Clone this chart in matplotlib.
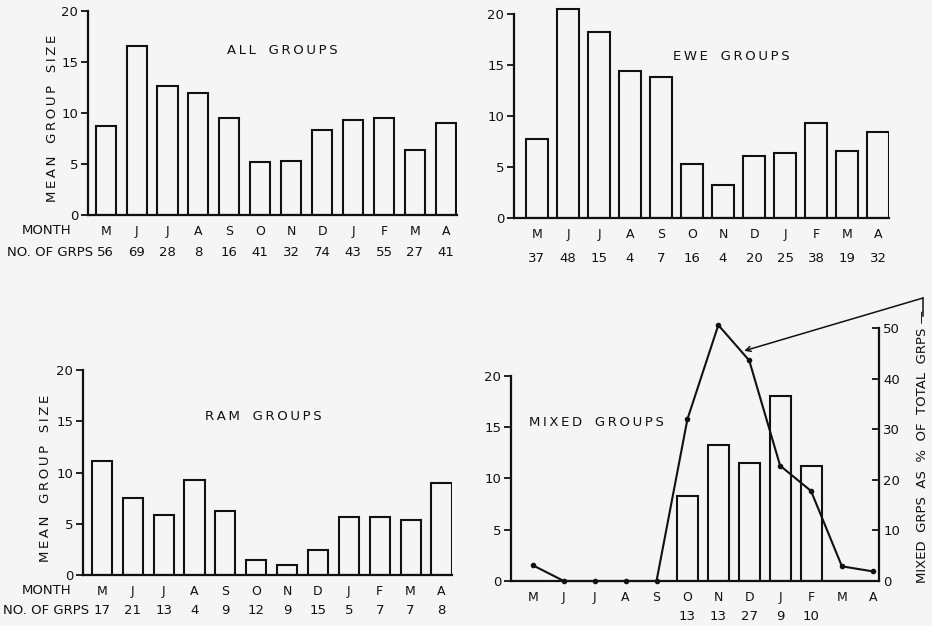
import numpy as np
import matplotlib
matplotlib.use("Agg")
import matplotlib.pyplot as plt
from matplotlib.lines import Line2D

months = ["M", "J", "J", "A", "S", "O", "N", "D", "J", "F", "M", "A"]

all_vals = [8.7, 16.6, 12.6, 12.0, 9.5, 5.2, 5.3, 8.3, 9.3, 9.5, 6.4, 9.0]
all_n = [56, 69, 28, 8, 16, 41, 32, 74, 43, 55, 27, 41]

ewe_vals = [7.8, 20.5, 18.3, 14.4, 13.8, 5.3, 3.2, 6.1, 6.4, 9.3, 6.6, 8.4]
ewe_n = [37, 48, 15, 4, 7, 16, 4, 20, 25, 38, 19, 32]

ram_vals = [11.1, 7.5, 5.9, 9.3, 6.2, 1.5, 1.0, 2.4, 5.7, 5.7, 5.4, 9.0]
ram_n = [17, 21, 13, 4, 9, 12, 9, 15, 5, 7, 7, 8]

mixed_vals = [None, None, None, None, None, 8.3, 13.3, 11.5, 18.0, 11.2, None, None]
mixed_n = ["", "", "", "", "", 13, 13, 27, 9, 10, "", ""]
mixed_pct = [3.1, 0, 0, 0, 0, 32.0, 50.6, 43.6, 22.8, 17.8, 2.9, 1.9]

W, H = 932, 626
BG = "#f5f5f5"
INK = "#111111"
plt.rcParams["font.family"] = ["DejaVu Sans"]

fig = plt.figure(figsize=(W / 100, H / 100), dpi=100, facecolor=BG)


def sp(text, gap="   ", sep="\u2009"):
    words = text.split(" ")
    return gap.join(sep.join(w) for w in words)


def add_ax(left, right, top, bottom):
    return fig.add_axes([left / W, 1 - bottom / H, (right - left) / W, (bottom - top) / H])


def ftext(x, y, s, **kw):
    fig.text(x / W, 1 - y / H, s, color=INK, **kw)


def style(ax, xlim, ylim, bound=None):
    ax.set_facecolor("none")
    ax.set_xlim(*xlim)
    ax.set_ylim(*ylim)
    for side in ["top", "right"]:
        ax.spines[side].set_visible(False)
    for side in ["left", "bottom"]:
        ax.spines[side].set_linewidth(1.6)
        ax.spines[side].set_color(INK)
    if bound is not None:
        ax.spines["left"].set_bounds(*bound)
    ax.set_yticks([0, 5, 10, 15, 20])
    ax.set_yticklabels(["0", "5", "10", "15", "20"])
    ax.tick_params(axis="y", direction="out", length=5, width=1.3, colors=INK,
                   labelsize=9.5, pad=2)
    ax.tick_params(axis="x", length=0, labelsize=9, colors=INK, pad=7)


def bars(ax, vals, width):
    x = np.arange(len(months))
    for xi, v in zip(x, vals):
        if v is not None:
            ax.bar(xi, v, width=width, facecolor="none", edgecolor=INK, linewidth=1.5)
    ax.set_xticks(x)
    ax.set_xticklabels(months)


def counts(ax, ns, y_off_px, ax_h_px):
    for xi, n in enumerate(ns):
        ax.text(xi, -y_off_px / ax_h_px, str(n), transform=ax.get_xaxis_transform(),
                ha="center", va="center", fontsize=9.5, color=INK)


# Panel 1: ALL GROUPS
ax1 = add_ax(88, 457, 11, 215)
style(ax1, (-0.57, 11.36), (0, 20))
bars(ax1, all_vals, 0.65)
counts(ax1, all_n, 37, 204)
ftext(282, 51, sp("ALL GROUPS"), ha="center", va="center", fontsize=9.5)
ftext(53, 118, sp("MEAN GROUP SIZE"), ha="center", va="center", fontsize=9.5, rotation=90)
ftext(22, 231, "MONTH", ha="left", va="center", fontsize=9.5)
ftext(7, 252, "NO. OF GRPS", ha="left", va="center", fontsize=9.5)

# Panel 2: EWE GROUPS
ax2 = add_ax(514, 889, 4, 218)
style(ax2, (-0.74, 11.35), (0, 21), bound=(0, 20))
bars(ax2, ewe_vals, 0.7)
counts(ax2, ewe_n, 40, 214)
ftext(731, 57, sp("EWE GROUPS"), ha="center", va="center", fontsize=9.5)

# Panel 3: RAM GROUPS
ax3 = add_ax(83, 452, 370, 575)
style(ax3, (-0.61, 11.34), (0, 20))
bars(ax3, ram_vals, 0.65)
counts(ax3, ram_n, 36, 205)
ftext(263, 416, sp("RAM GROUPS"), ha="center", va="center", fontsize=9.5)
ftext(46, 478, sp("MEAN GROUP SIZE"), ha="center", va="center", fontsize=9.5, rotation=90)
ftext(22, 590, "MONTH", ha="left", va="center", fontsize=9.5)
ftext(3, 611, "NO. OF GRPS", ha="left", va="center", fontsize=9.5)

# Panel 4: MIXED GROUPS
ax4 = add_ax(511, 879, 320, 581)
style(ax4, (-0.71, 11.2), (0, 25.46), bound=(0, 20))
bars(ax4, mixed_vals, 0.68)
counts(ax4, mixed_n, 35, 261)
ftext(529, 422, sp("MIXED GROUPS"), ha="left", va="center", fontsize=9.5)

ax4r = ax4.twinx()
ax4r.set_ylim(0, 51.6)
ax4r.set_facecolor("none")
for side in ["top", "left", "bottom"]:
    ax4r.spines[side].set_visible(False)
ax4r.spines["right"].set_linewidth(1.6)
ax4r.spines["right"].set_color(INK)
ax4r.spines["right"].set_bounds(0, 50)
ax4r.set_yticks([0, 10, 20, 30, 40, 50])
ax4r.tick_params(axis="y", direction="in", length=5, width=1.3, colors=INK,
                 labelsize=9.5, pad=3)
xm = np.arange(len(months))
ax4r.plot(xm, mixed_pct, color=INK, linewidth=1.5, marker="o", markersize=3,
          clip_on=False)

# right label with leader
ftext(922, 583, sp("MIXED GRPS AS % OF TOTAL GRPS", gap="  ", sep="") + " \u2014",
      ha="center", va="bottom", fontsize=9.5, rotation=90)
arrow_x = 6.75
arrow_y = float(np.interp(arrow_x, xm, mixed_pct))
ax4r.annotate("", xy=(arrow_x, arrow_y), xycoords="data",
              xytext=(923 / W, 1 - 298 / H), textcoords="figure fraction",
              arrowprops=dict(arrowstyle="->", color=INK, lw=1.1,
                              shrinkA=0, shrinkB=2, mutation_scale=9))
fig.add_artist(Line2D([923 / W, 923 / W], [1 - 298 / H, 1 - 316 / H],
                      transform=fig.transFigure, color=INK, lw=1.1))

fig.savefig("out.png", dpi=100, facecolor=BG)
